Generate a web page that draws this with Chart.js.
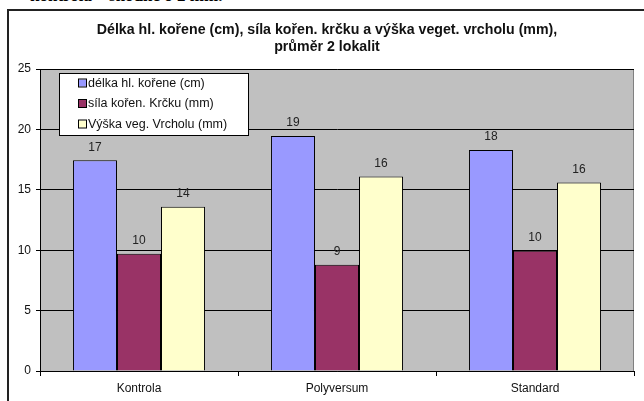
<!doctype html>
<html lang="cs">
<head>
<meta charset="utf-8">
<title>Délka hl. kořene</title>
<script src="https://cdn.jsdelivr.net/npm/chart.js"></script>
<style>
  html, body { margin: 0; padding: 0; background: #fff; overflow: hidden; }
  body { width: 644px; height: 401px; position: relative; }
  #cut {
    position: absolute; left: 30px; top: -14px;
    font: bold 17px "Liberation Serif", serif; color: #000; white-space: nowrap;
  }
  #frame {
    position: absolute; left: 7px; top: 9px; width: 700px; height: 500px;
    border: 2px solid #222;
  }
  #wrap { position: absolute; left: 0; top: 0; width: 644px; height: 401px; }
</style>
</head>
<body>
<div id="cut">kontrola – shodné o 2 mm.</div>
<div id="frame"></div>
<div id="wrap"><canvas id="graf" width="644" height="401"></canvas></div>
<script>
  const kategorie = ['Kontrola', 'Polyversum', 'Standard'];
  const nazvyRad = ['délka hl. kořene (cm)', 'síla kořen. Krčku (mm)', 'Výška veg. Vrcholu (mm)'];
  const delkaKorene = [17.45, 19.45, 18.3];
  const silaKrcku = [9.7, 8.8, 9.95];
  const vyskaVrcholu = [13.6, 16.1, 15.6];
  const barvy = ['#9999FF', '#993366', '#FFFFCC'];
  const osaY = { min: 0, max: 25, krok: 5 };
  const nadpis = ['Délka hl. kořene (cm), síla kořen. krčku a výška veget. vrcholu (mm),', 'průměr 2 lokalit'];

  const font = '"Liberation Sans", Arial, sans-serif';

  // sede pozadi plochy grafu
  const pozadi = {
    id: 'pozadi',
    beforeDraw(chart) {
      const a = chart.chartArea, c = chart.ctx;
      c.save();
      c.fillStyle = '#C0C0C0';
      c.fillRect(a.left, a.top, a.right - a.left, a.bottom - a.top);
      c.strokeStyle = '#808080';
      c.lineWidth = 1;
      c.beginPath();
      c.moveTo(a.left, a.top + 0.5);
      c.lineTo(a.right - 0.5, a.top + 0.5);
      c.lineTo(a.right - 0.5, a.bottom);
      c.stroke();
      c.restore();
    }
  };

  // nadpis, popisky hodnot nad sloupci + legenda v plose
  const popisky = {
    id: 'popisky',
    afterDatasetsDraw(chart) {
      const c = chart.ctx;
      c.save();
      c.fillStyle = '#111';
      c.textAlign = 'center';
      c.textBaseline = 'middle';
      c.font = 'bold 14.2px ' + font;
      nadpis.forEach((t, i) => c.fillText(t, 327, 30.5 + i * 17));

      c.font = '12px ' + font;
      c.fillStyle = '#222';
      chart.data.datasets.forEach((ds, i) => {
        chart.getDatasetMeta(i).data.forEach((bar, j) => {
          c.fillText(Math.round(ds.data[j]), bar.x, bar.y - 13);
        });
      });

      // legenda
      const x = 59.5, y = 73.5, w = 189, h = 62;
      c.fillStyle = '#fff';
      c.fillRect(x, y, w, h);
      c.strokeStyle = '#000';
      c.lineWidth = 1;
      c.strokeRect(x, y, w, h);
      c.textAlign = 'left';
      c.font = '12.5px ' + font;
      chart.data.datasets.forEach((ds, i) => {
        const ry = 83.5 + i * 20.5;
        c.fillStyle = ds.backgroundColor;
        c.fillRect(79, ry - 4, 7, 7);
        c.strokeStyle = '#000';
        c.strokeRect(78.5, ry - 4.5, 8, 8);
        c.fillStyle = '#111';
        c.fillText(ds.label, 88, ry);
      });
      c.restore();
    }
  };

  new Chart(document.getElementById('graf'), {
    type: 'bar',
    data: {
      labels: kategorie,
      datasets: [
        { label: nazvyRad[0], data: delkaKorene, backgroundColor: barvy[0] },
        { label: nazvyRad[1], data: silaKrcku, backgroundColor: barvy[1] },
        { label: nazvyRad[2], data: vyskaVrcholu, backgroundColor: barvy[2] }
      ].map(d => Object.assign(d, { borderColor: '#000', borderWidth: 1, borderSkipped: 'bottom' }))
    },
    options: {
      responsive: false,
      animation: false,
      devicePixelRatio: 1,
      layout: { padding: { left: 0, right: 10, top: 69, bottom: 0 } },
      categoryPercentage: 0.667,
      barPercentage: 1.0,
      scales: {
        x: {
          grid: { offset: true, drawOnChartArea: false, drawTicks: true, tickLength: 5, color: '#000' },
          border: { color: '#000', width: 1 },
          ticks: { color: '#111', font: { family: font, size: 12 }, padding: 5 },
          afterFit(s) { s.height = 30; }
        },
        y: {
          min: osaY.min, max: osaY.max,
          grid: { color: '#000', tickLength: 4, lineWidth: 1 },
          border: { color: '#000', width: 1 },
          ticks: { stepSize: osaY.krok, color: '#111', font: { family: font, size: 12 }, padding: 5 },
          afterFit(s) { s.width = 40; }
        }
      },
      plugins: {
        legend: { display: false },
        tooltip: { enabled: false },
        title: { display: false }
      }
    },
    plugins: [pozadi, popisky]
  });
</script>
</body>
</html>
